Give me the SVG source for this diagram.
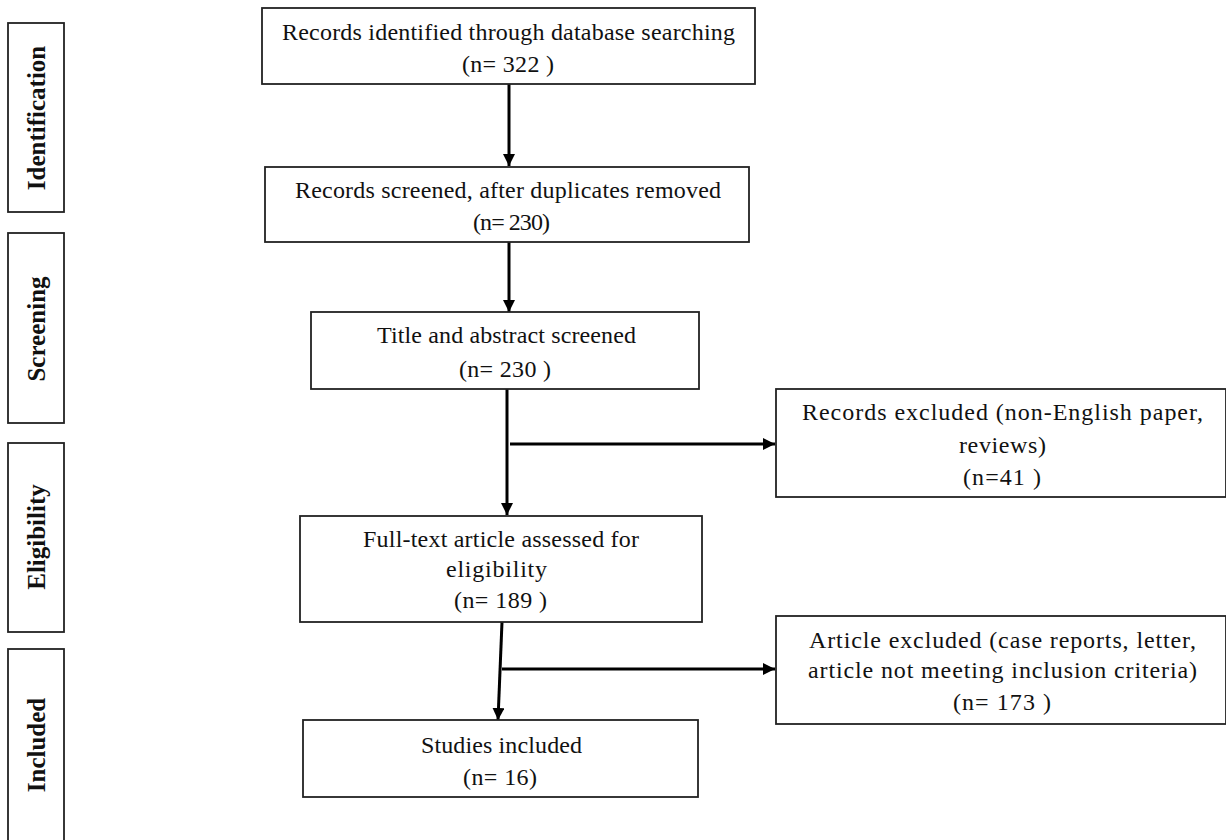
<svg xmlns="http://www.w3.org/2000/svg" width="1226" height="840" viewBox="0 0 1226 840">
<style>
.box{fill:#fff;stroke:#222;stroke-width:1.8}
.t{font-family:"Liberation Serif","Times New Roman",serif;font-size:24px;fill:#111;text-anchor:middle}
.s{font-family:"Liberation Serif","Times New Roman",serif;font-size:25px;font-weight:bold;fill:#111;text-anchor:middle}
.c{fill:none;stroke:#000;stroke-width:3}
</style>
<defs>
<marker id="ah" viewBox="0 0 10 10" refX="10" refY="5" markerWidth="4" markerHeight="4" markerUnits="strokeWidth" orient="auto">
<path d="M0,0 L10,5 L0,10 z" fill="#000"/>
</marker>
</defs>
<rect width="1226" height="840" fill="#fff"/>
<g id="phase-identification">
<rect class="box" x="8" y="23" width="56" height="189"/>
<text class="s" transform="translate(45,118) rotate(-90)">Identification</text>
</g>
<g id="phase-screening">
<rect class="box" x="8" y="233" width="56" height="190"/>
<text class="s" transform="translate(45,329) rotate(-90)">Screening</text>
</g>
<g id="phase-eligibility">
<rect class="box" x="8" y="443" width="56" height="189"/>
<text class="s" transform="translate(45,537) rotate(-90)">Eligibility</text>
</g>
<g id="phase-included">
<rect class="box" x="8" y="649" width="56" height="195"/>
<text class="s" transform="translate(45,745) rotate(-90)">Included</text>
</g>
<g id="connectors">
<line class="c" x1="509" y1="84" x2="509" y2="166" marker-end="url(#ah)"/>
<line class="c" x1="509" y1="242" x2="509" y2="312" marker-end="url(#ah)"/>
<line class="c" x1="507" y1="389" x2="507" y2="515" marker-end="url(#ah)"/>
<line class="c" x1="510" y1="444" x2="775" y2="444" marker-end="url(#ah)"/>
<line class="c" x1="502" y1="622" x2="498" y2="720" marker-end="url(#ah)"/>
<line class="c" x1="502" y1="669" x2="775" y2="669" marker-end="url(#ah)"/>
</g>
<g id="n1">
<rect class="box" x="262" y="8" width="493" height="76"/>
<text class="t" x="508.5" y="40" textLength="453" lengthAdjust="spacing">Records identified through database searching</text>
<text class="t" x="508" y="72" textLength="92" lengthAdjust="spacing">(n= 322 )</text>
</g>
<g id="n2">
<rect class="box" x="265" y="167" width="484" height="75"/>
<text class="t" x="508" y="198" textLength="426" lengthAdjust="spacing">Records screened, after duplicates removed</text>
<text class="t" x="511.5" y="230" textLength="77" lengthAdjust="spacing">(n= 230)</text>
</g>
<g id="n3">
<rect class="box" x="311" y="312" width="388" height="77"/>
<text class="t" x="506.5" y="343" textLength="259" lengthAdjust="spacing">Title and abstract screened</text>
<text class="t" x="505" y="377" textLength="92" lengthAdjust="spacing">(n= 230 )</text>
</g>
<g id="n4">
<rect class="box" x="776" y="389" width="450" height="108"/>
<text class="t" x="1002.5" y="420" textLength="401" lengthAdjust="spacing">Records excluded (non-English paper,</text>
<text class="t" x="1002.5" y="453" textLength="87" lengthAdjust="spacing">reviews)</text>
<text class="t" x="1002" y="485" textLength="78" lengthAdjust="spacing">(n=41 )</text>
</g>
<g id="n5">
<rect class="box" x="300" y="516" width="402" height="106"/>
<text class="t" x="501" y="547" textLength="276" lengthAdjust="spacing">Full-text article assessed for</text>
<text class="t" x="496.5" y="577" textLength="101" lengthAdjust="spacing">eligibility</text>
<text class="t" x="500.5" y="608" textLength="93" lengthAdjust="spacing">(n= 189 )</text>
</g>
<g id="n6">
<rect class="box" x="776" y="616" width="450" height="108"/>
<text class="t" x="1002.5" y="648" textLength="387" lengthAdjust="spacing">Article excluded (case reports, letter,</text>
<text class="t" x="1002.5" y="678" textLength="389" lengthAdjust="spacing">article not meeting inclusion criteria)</text>
<text class="t" x="1002" y="710" textLength="98" lengthAdjust="spacing">(n= 173 )</text>
</g>
<g id="n7">
<rect class="box" x="303" y="720" width="395" height="77"/>
<text class="t" x="501.5" y="753" textLength="161" lengthAdjust="spacing">Studies included</text>
<text class="t" x="500" y="785" textLength="74" lengthAdjust="spacing">(n= 16)</text>
</g>
</svg>
